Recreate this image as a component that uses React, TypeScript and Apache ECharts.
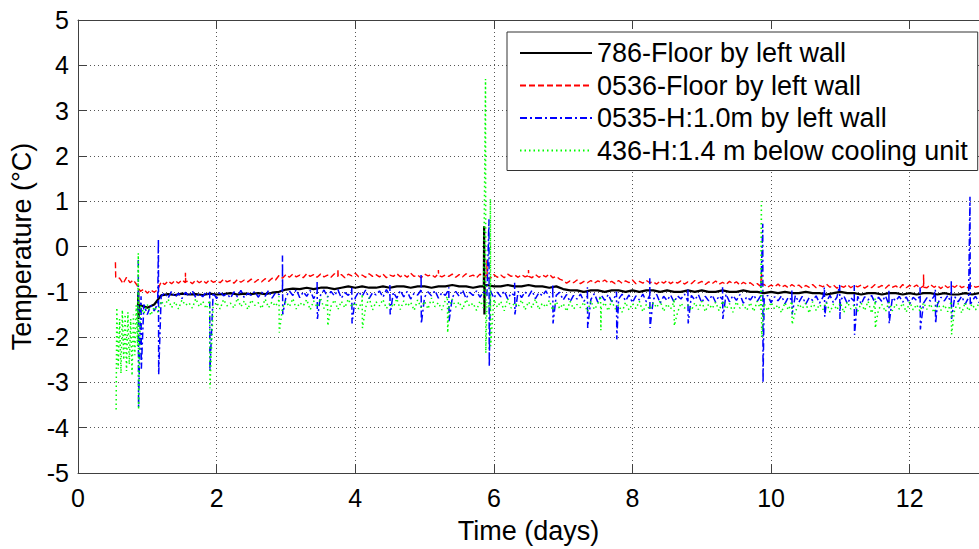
import React, { useEffect, useRef } from "react";
import * as echarts from "echarts";

const FONT = '"Liberation Sans", Arial, Helvetica, sans-serif';

// sampling intervals of the regular readings (days)
const STEP_FINE = 0.05;
const STEP_COARSE = 0.1;

const seriesNames = [
  "786-Floor by left wall",
  "0536-Floor by left wall",
  "0535-H:1.0m by left wall",
  "436-H:1.4 m below cooling unit",
];

const xTicks = { min: 0, max: 13, interval: 2 };
const yTicks = { min: -5, max: 5, interval: 1 };

// ---- 786 Floor by left wall (black), readings every 0.1 d from t = 0.9 d
const blackStart = 0.9;
const blackValues = [
  -1.3, -1.35, -1.28, -1.08,
  -1.05, -1.07, -1.04, -1.06, -1.05, -1.07, -1.04, -1.06, -1.05, -1.03, -1.06, -1.04, -1.05, -1.03, -1.05, -1.02, -1.0,
  -0.95, -0.93, -0.94, -0.91, -0.94, -0.91, -0.91, -0.94, -0.91, -0.88,
  -0.91, -0.88, -0.91, -0.91, -0.88, -0.91, -0.88, -0.88, -0.91, -0.88,
  -0.88, -0.91, -0.88, -0.88, -0.85, -0.88, -0.88, -0.91, -0.88, -0.85,
  -0.88, -0.88, -0.85, -0.88, -0.88, -0.85, -0.88, -0.88, -0.91, -0.88,
  -0.94, -0.97, -0.97, -1.0, -0.97, -0.97, -1.0, -0.97, -0.97, -1.0,
  -0.97, -1.0, -0.97, -0.97, -1.0, -0.97, -1.0, -1.0, -0.97, -1.0,
  -0.97, -1.0, -1.0, -0.97, -1.0, -1.0, -0.97, -1.0, -1.0,
  -1.03, -1.0, -1.03, -1.0, -1.03, -1.03, -1.0, -1.03, -1.03, -1.06,
  -1.03, -1.0, -1.03, -1.03, -1.06, -1.03, -1.03, -1.06, -1.03, -1.03,
  -1.06, -1.03, -1.06, -1.03, -1.03, -1.06, -1.03, -1.06, -1.06, -1.03, -1.06, -1.03,
];
// spikes: [time, high, low, local level]
const blackSpikes = [
  [0.87, -1.0, -1.6, -1.3],
  [5.86, 0.45, -1.5, -0.88],
];

// ---- 0536 Floor by left wall (red), readings every 0.05 d from t = 0.6 d
const redStart = 0.6;
const redValues = [
  -0.70, -0.82, -0.68, -0.80, -0.74, -0.85, -0.99, -0.94, -1.03, -0.96, -1.01, -0.95, -0.78, -0.84, -0.76, -0.82, -0.75, -0.81, -0.74, -0.80,
  -0.76, -0.82, -0.74, -0.80, -0.75, -0.81, -0.73, -0.79, -0.76, -0.80, -0.72, -0.78, -0.75, -0.81, -0.73, -0.79, -0.74, -0.78, -0.72, -0.79,
  -0.73, -0.78, -0.71, -0.77, -0.70, -0.74, -0.64, -0.70, -0.62, -0.68, -0.61, -0.67, -0.63, -0.69, -0.60, -0.66, -0.62, -0.68, -0.61, -0.67,
  -0.63, -0.68, -0.60, -0.66, -0.62, -0.69, -0.61, -0.65, -0.59, -0.67, -0.63, -0.68, -0.60, -0.66, -0.62, -0.67, -0.61, -0.69, -0.63, -0.66,
  -0.60, -0.67, -0.62, -0.68, -0.59, -0.66, -0.63, -0.69, -0.61, -0.65, -0.62, -0.68, -0.60, -0.67, -0.63, -0.66, -0.61, -0.68, -0.62, -0.67,
  -0.60, -0.66, -0.63, -0.69, -0.61, -0.67, -0.64, -0.70, -0.62, -0.68, -0.63, -0.69, -0.61, -0.66, -0.63, -0.68, -0.62, -0.67, -0.64, -0.69,
  -0.62, -0.68, -0.63, -0.67, -0.61, -0.69, -0.66, -0.72, -0.75, -0.81, -0.76, -0.80, -0.74, -0.82, -0.77, -0.80, -0.75, -0.81, -0.76, -0.79,
  -0.74, -0.80, -0.77, -0.82, -0.75, -0.81, -0.76, -0.80, -0.74, -0.82, -0.77, -0.81, -0.75, -0.80, -0.78, -0.83, -0.76, -0.81, -0.75, -0.82,
  -0.77, -0.81, -0.76, -0.83, -0.78, -0.82, -0.75, -0.81, -0.77, -0.84, -0.78, -0.82, -0.76, -0.83, -0.79, -0.84, -0.77, -0.82, -0.78, -0.85,
  -0.79, -0.83, -0.80, -0.86, -0.82, -0.88, -0.84, -0.90, -0.85, -0.89, -0.83, -0.90, -0.86, -0.91, -0.84, -0.89, -0.85, -0.92, -0.86, -0.90,
  -0.84, -0.91, -0.86, -0.89, -0.83, -0.90, -0.85, -0.92, -0.87, -0.90, -0.84, -0.91, -0.86, -0.89, -0.85, -0.92, -0.87, -0.91, -0.84, -0.90,
  -0.86, -0.92, -0.85, -0.90, -0.87, -0.93, -0.84, -0.91, -0.86, -0.90, -0.85, -0.92, -0.87, -0.91, -0.84, -0.90, -0.86, -0.93, -0.85, -0.91,
  -0.86, -0.90, -0.84, -0.91, -0.87, -0.92, -0.85, -0.90, -0.88,
];
const redSpikes = [
  [0.54, -0.35, -0.68],
  [1.55, -0.58, -0.78],
  [3.75, -0.5, -0.66],
  [5.2, -0.52, -0.64],
  [5.9, -0.3, -0.7],
  [6.5, -0.52, -0.66],
  [9.86, -0.6, -0.84],
  [12.2, -0.62, -0.9],
];

// ---- 0535 H:1.0m by left wall (blue), readings every 0.05 d from t = 0.9 d
const blueStart = 0.9;
const blueValues = [
  -1.45, -1.28, -1.50, -1.30, -1.42, -1.26, -1.10, -1.02, -1.14, -0.99, -1.12, -1.03, -1.15, -1.01, -1.10, -0.98, -1.13, -1.04, -1.11, -1.00,
  -1.12, -1.02, -1.15, -0.99, -1.09, -1.04, -1.14, -1.00, -1.11, -0.97, -1.13, -1.03, -1.08, -0.99, -1.12, -1.01, -1.10, -0.97, -1.14, -1.02,
  -1.06, -0.96, -1.12, -0.98, -1.08, -0.95, -1.13, -1.00, -1.10, -0.97, -1.15, -1.01, -1.07, -0.96, -1.12, -0.99, -1.09, -0.95, -1.14, -1.02,
  -1.08, -0.97, -1.13, -1.00, -1.10, -0.96, -1.15, -1.02, -1.07, -0.98, -1.12, -0.95, -1.09, -1.01, -1.14, -0.97, -1.11, -0.99, -1.16, -1.03,
  -1.07, -0.96, -1.12, -1.00, -1.09, -0.97, -1.14, -1.02, -1.08, -0.95, -1.13, -0.99, -1.10, -0.96, -1.15, -1.01, -1.08, -0.98, -1.12, -1.00,
  -1.09, -0.97, -1.14, -1.01, -1.11, -0.98, -1.16, -1.03, -1.08, -0.99, -1.13, -1.00, -1.10, -0.97, -1.15, -1.02, -1.09, -0.98, -1.12, -1.04,
  -1.08, -1.01, -1.18, -1.06, -1.22, -1.08, -1.16, -1.05, -1.21, -1.09, -1.17, -1.04, -1.23, -1.07, -1.19, -1.06, -1.22, -1.10, -1.16, -1.05,
  -1.20, -1.07, -1.24, -1.09, -1.18, -1.05, -1.22, -1.08, -1.17, -1.06, -1.25, -1.10, -1.19, -1.07, -1.23, -1.09, -1.16, -1.05, -1.21, -1.08,
  -1.18, -1.06, -1.24, -1.10, -1.20, -1.07, -1.23, -1.09, -1.17, -1.05, -1.22, -1.08, -1.19, -1.06, -1.25, -1.11, -1.18, -1.07, -1.21, -1.09,
  -1.16, -1.08, -1.24, -1.11, -1.20, -1.09, -1.26, -1.12, -1.18, -1.08, -1.23, -1.10, -1.27, -1.13, -1.19, -1.09, -1.25, -1.11, -1.21, -1.08,
  -1.24, -1.12, -1.19, -1.09, -1.26, -1.13, -1.21, -1.10, -1.27, -1.11, -1.18, -1.08, -1.25, -1.12, -1.22, -1.09, -1.28, -1.13, -1.20, -1.10,
  -1.23, -1.11, -1.27, -1.12, -1.19, -1.09, -1.25, -1.13, -1.21, -1.10, -1.28, -1.12, -1.20, -1.08, -1.26, -1.11, -1.22, -1.10, -1.27, -1.13,
  -1.20, -1.10, -1.24,
];
const blueSpikes = [
  [0.87, -0.3, -3.55],
  [0.91, -1.1, -2.7],
  [1.16, 0.16, -2.83],
  [1.9, -1.0, -2.75],
  [2.95, -0.2, -1.5],
  [3.45, -0.75, -1.6],
  [3.95, -0.9, -1.7],
  [4.5, -0.85, -1.5],
  [4.95, -0.6, -1.7],
  [5.35, -0.9, -1.65],
  [5.93, 0.6, -2.65],
  [6.3, -0.8, -1.5],
  [6.85, -0.85, -1.7],
  [7.35, -0.9, -1.8],
  [7.77, -1.0, -2.05],
  [8.25, -0.7, -1.8],
  [8.8, -0.95, -1.7],
  [9.3, -0.9, -1.6],
  [9.88, 0.5, -3.0],
  [10.3, -0.95, -1.5],
  [10.77, -0.9, -1.55],
  [10.99, -0.85, -1.6],
  [11.2, -0.85, -1.95],
  [11.7, -0.95, -1.7],
  [12.15, -0.9, -1.83],
  [12.37, -0.95, -1.7],
  [12.6, -0.75, -1.6],
  [12.87, 1.1, -1.3],
];

// ---- 436 H:1.4 m below cooling unit (green), readings every 0.05 d from t = 0.9 d
const greenStart = 0.9;
const greenValues = [
  -1.30, -1.48, -1.28, -1.52, -1.33, -1.45, -1.20, -1.32, -1.16, -1.35, -1.22, -1.38, -1.18, -1.30, -1.24, -1.36, -1.15, -1.33, -1.21, -1.37,
  -1.19, -1.34, -1.23, -1.38, -1.17, -1.31, -1.25, -1.36, -1.14, -1.33, -1.20, -1.39, -1.18, -1.30, -1.24, -1.37, -1.16, -1.35, -1.22, -1.32,
  -1.18, -1.36, -1.21, -1.33, -1.15, -1.38, -1.24, -1.31, -1.17, -1.40, -1.20, -1.34, -1.14, -1.37, -1.23, -1.32, -1.18, -1.39, -1.21, -1.35,
  -1.16, -1.33, -1.24, -1.38, -1.19, -1.35, -1.13, -1.40, -1.22, -1.31, -1.17, -1.37, -1.25, -1.34, -1.15, -1.39, -1.20, -1.32, -1.23, -1.41,
  -1.18, -1.35, -1.21, -1.38, -1.14, -1.33, -1.24, -1.40, -1.19, -1.36, -1.16, -1.34, -1.22, -1.39, -1.17, -1.32, -1.25, -1.41, -1.20, -1.35,
  -1.23, -1.38, -1.17, -1.34, -1.21, -1.42, -1.15, -1.36, -1.24, -1.33, -1.18, -1.40, -1.22, -1.35, -1.16, -1.39, -1.25, -1.34, -1.19, -1.41,
  -1.22, -1.37, -1.26, -1.43, -1.21, -1.38, -1.28, -1.35, -1.23, -1.44, -1.20, -1.39, -1.27, -1.36, -1.24, -1.42, -1.19, -1.38, -1.29, -1.45,
  -1.23, -1.40, -1.26, -1.37, -1.21, -1.44, -1.28, -1.39, -1.24, -1.35, -1.20, -1.43, -1.27, -1.38, -1.22, -1.46, -1.25, -1.36, -1.29, -1.41,
  -1.24, -1.39, -1.21, -1.44, -1.27, -1.37, -1.23, -1.42, -1.20, -1.38, -1.26, -1.45, -1.22, -1.36, -1.28, -1.41, -1.24, -1.43, -1.21, -1.39,
  -1.26, -1.42, -1.23, -1.38, -1.29, -1.46, -1.24, -1.40, -1.21, -1.44, -1.27, -1.37, -1.25, -1.47, -1.22, -1.41, -1.28, -1.39, -1.23, -1.45,
  -1.27, -1.40, -1.24, -1.46, -1.22, -1.38, -1.29, -1.43, -1.25, -1.41, -1.21, -1.47, -1.26, -1.39, -1.28, -1.44, -1.23, -1.42, -1.27, -1.38,
  -1.25, -1.45, -1.22, -1.40, -1.28, -1.43, -1.24, -1.39, -1.27, -1.46, -1.23, -1.41, -1.29, -1.44, -1.21, -1.38, -1.26, -1.47, -1.24, -1.42,
  -1.27, -1.40, -1.25,
];
// early unsettled readings [time, value]
const greenEarly = [
  [0.55, -3.6], [0.56, -1.35], [0.58, -2.7], [0.6, -1.6], [0.62, -2.8],
  [0.64, -1.4], [0.66, -2.5], [0.68, -1.5], [0.7, -2.75], [0.72, -1.45],
  [0.74, -2.6], [0.76, -1.6], [0.78, -2.85], [0.8, -1.5], [0.82, -2.4],
  [0.84, -1.3], [0.86, -2.2],
];
const greenSpikes = [
  [0.87, -0.15, -3.6],
  [1.9, -1.2, -3.13],
  [2.9, -1.1, -1.9],
  [3.6, -1.1, -1.75],
  [4.1, -1.05, -1.8],
  [5.33, -1.1, -1.9],
  [5.88, 3.7, -2.35],
  [5.95, 1.05, -2.2],
  [7.54, -1.1, -1.85],
  [8.6, -1.15, -1.75],
  [9.86, 1.0, -2.0],
  [10.3, -1.2, -1.72],
  [11.5, -1.15, -1.8],
  [12.6, -1.2, -1.94],
];

function build(start: number, step: number, values: number[], spikes: number[][], extra: number[][] = []) {
  const pts: number[][] = values.map((v, i) => [Math.round((start + i * step) * 1000) / 1000, v]);
  spikes.forEach((s) => {
    const [t, hi, lo, level] = s;
    if (level !== undefined) pts.push([t - 0.004, level]);
    pts.push([t, hi]);
    pts.push([t + 0.004, lo]);
    if (level !== undefined) pts.push([t + 0.008, level]);
  });
  extra.forEach((p) => pts.push([p[0], p[1]]));
  return pts.sort((a, b) => a[0] - b[0]);
}

export default function App() {
  const ref = useRef<HTMLDivElement>(null);

  useEffect(() => {
    document.body.style.margin = "0";
    if (!ref.current) return;
    const chart = echarts.init(ref.current, undefined, { renderer: "svg" });

    const axisLineStyle = { color: "#404040", width: 1 };
    const grid = { color: "#555", width: 1, type: [1, 3] as number[] };

    const option: any = {
      animation: false,
      backgroundColor: "#ffffff",
      grid: { left: 78, top: 20, right: -9, bottom: 68, containLabel: false },
      legend: {
        orient: "vertical",
        left: 507,
        top: 32,
        padding: [7.5, 10, 6.5, 12],
        itemWidth: 72,
        itemHeight: 14,
        itemGap: 5.5,
        backgroundColor: "#ffffff",
        borderColor: "#333",
        borderWidth: 1,
        selectedMode: false,
        itemStyle: { opacity: 0, borderWidth: 0 },
        textStyle: { fontSize: 27, color: "#000", fontFamily: FONT, lineHeight: 27 },
        data: seriesNames,
      },
      xAxis: [
        {
          type: "value",
          position: "bottom",
          min: xTicks.min,
          max: xTicks.max,
          interval: xTicks.interval,
          name: "Time (days)",
          nameLocation: "middle",
          nameGap: 44,
          nameTextStyle: { fontSize: 27, color: "#000", fontFamily: FONT },
          axisLine: { show: true, onZero: false, lineStyle: axisLineStyle },
          axisTick: { show: true, inside: true, length: 9, lineStyle: axisLineStyle },
          axisLabel: { fontSize: 25, color: "#000", fontFamily: FONT, margin: 12, showMaxLabel: false },
          splitLine: { show: true, lineStyle: grid },
        },
        {
          type: "value",
          position: "top",
          min: xTicks.min,
          max: xTicks.max,
          interval: xTicks.interval,
          axisLine: { show: true, onZero: false, lineStyle: axisLineStyle },
          axisTick: { show: true, inside: true, length: 9, lineStyle: axisLineStyle },
          axisLabel: { show: false },
          splitLine: { show: false },
        },
      ],
      yAxis: {
        type: "value",
        min: yTicks.min,
        max: yTicks.max,
        interval: yTicks.interval,
        name: "Temperature (°C)",
        nameLocation: "middle",
        nameGap: 42,
        nameTextStyle: { fontSize: 27, color: "#000", fontFamily: FONT },
        axisLine: { show: true, onZero: false, lineStyle: axisLineStyle },
        axisTick: { show: true, inside: true, length: 9, lineStyle: axisLineStyle },
        axisLabel: { fontSize: 25, color: "#000", fontFamily: FONT, margin: 9 },
        splitLine: { show: true, lineStyle: grid },
      },
      series: [
        {
          name: seriesNames[0],
          type: "line",
          symbol: "none",
          showSymbol: false,
          data: build(blackStart, STEP_COARSE, blackValues, blackSpikes),
          itemStyle: { color: "#000000" },
          lineStyle: { color: "#000000", width: 2.2, type: "solid" },
        },
        {
          name: seriesNames[1],
          type: "line",
          symbol: "none",
          showSymbol: false,
          data: build(redStart, STEP_FINE, redValues, redSpikes),
          itemStyle: { color: "#ff0000" },
          lineStyle: { color: "#ff0000", width: 1.4, type: [6, 3] },
        },
        {
          name: seriesNames[2],
          type: "line",
          symbol: "none",
          showSymbol: false,
          data: build(blueStart, STEP_FINE, blueValues, blueSpikes),
          itemStyle: { color: "#0000ff" },
          lineStyle: { color: "#0000ff", width: 1.5, type: [7, 3, 2, 3] },
        },
        {
          name: seriesNames[3],
          type: "line",
          symbol: "none",
          showSymbol: false,
          data: build(greenStart, STEP_FINE, greenValues, greenSpikes, greenEarly),
          itemStyle: { color: "#00ff00" },
          lineStyle: { color: "#00ff00", width: 1.5, type: [1.5, 3] },
        },
      ],
    };

    chart.setOption(option);
    return () => chart.dispose();
  }, []);

  return <div ref={ref} style={{ width: 979, height: 549, overflow: "hidden" }} />;
}
